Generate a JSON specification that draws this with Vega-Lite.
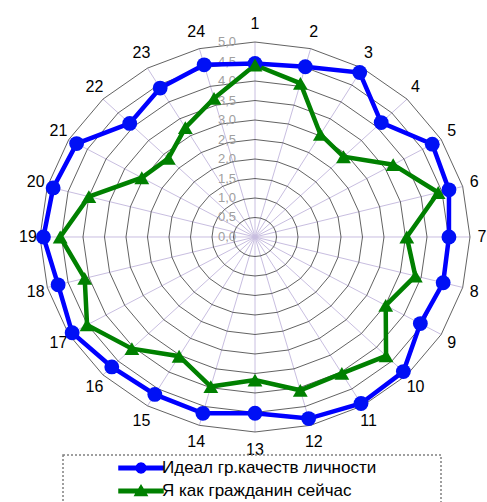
{
  "$schema": "https://vega.github.io/schema/vega-lite/v6.json",
  "width": 487,
  "height": 502,
  "autosize": "none",
  "padding": 0,
  "background": "white",
  "config": {"view": {"stroke": null}, "font": "Liberation Sans"},
  "datasets": {
    "scores": [
      {"k": 1, "series": "Идеал гр.качеств личности", "value": 4.45},
      {"k": 2, "series": "Идеал гр.качеств личности", "value": 4.52},
      {"k": 3, "series": "Идеал гр.качеств личности", "value": 4.87},
      {"k": 4, "series": "Идеал гр.качеств личности", "value": 4.15},
      {"k": 5, "series": "Идеал гр.качеств личности", "value": 4.76},
      {"k": 6, "series": "Идеал гр.качеств личности", "value": 4.67},
      {"k": 7, "series": "Идеал гр.качеств личности", "value": 4.51},
      {"k": 8, "series": "Идеал гр.качеств личности", "value": 4.53},
      {"k": 9, "series": "Идеал гр.качеств личности", "value": 4.44},
      {"k": 10, "series": "Идеал гр.качеств личности", "value": 4.88},
      {"k": 11, "series": "Идеал гр.качеств личности", "value": 4.93},
      {"k": 12, "series": "Идеал гр.качеств личности", "value": 4.82},
      {"k": 13, "series": "Идеал гр.качеств личности", "value": 4.52},
      {"k": 14, "series": "Идеал гр.качеств личности", "value": 4.68},
      {"k": 15, "series": "Идеал гр.качеств личности", "value": 4.66},
      {"k": 16, "series": "Идеал гр.качеств личности", "value": 4.71},
      {"k": 17, "series": "Идеал гр.качеств личности", "value": 4.91},
      {"k": 18, "series": "Идеал гр.качеств личности", "value": 4.74},
      {"k": 19, "series": "Идеал гр.качеств личности", "value": 4.92},
      {"k": 20, "series": "Идеал гр.качеств личности", "value": 4.86},
      {"k": 21, "series": "Идеал гр.качеств личности", "value": 4.79},
      {"k": 22, "series": "Идеал гр.качеств личности", "value": 4.12},
      {"k": 23, "series": "Идеал гр.качеств личности", "value": 4.41},
      {"k": 24, "series": "Идеал гр.качеств личности", "value": 4.57},
      {"k": 1, "series": "Я как гражданин сейчас", "value": 4.41},
      {"k": 2, "series": "Я как гражданин сейчас", "value": 4.08},
      {"k": 3, "series": "Я как гражданин сейчас", "value": 3.04},
      {"k": 4, "series": "Я как гражданин сейчас", "value": 2.91},
      {"k": 5, "series": "Я как гражданин сейчас", "value": 3.71},
      {"k": 6, "series": "Я как гражданин сейчас", "value": 4.41},
      {"k": 7, "series": "Я как гражданин сейчас", "value": 3.53},
      {"k": 8, "series": "Я как гражданин сейчас", "value": 3.86},
      {"k": 9, "series": "Я как гражданин сейчас", "value": 3.51},
      {"k": 10, "series": "Я как гражданин сейчас", "value": 4.31},
      {"k": 11, "series": "Я как гражданин сейчас", "value": 4.04},
      {"k": 12, "series": "Я как гражданин сейчас", "value": 4.07},
      {"k": 13, "series": "Я как гражданин сейчас", "value": 3.67},
      {"k": 14, "series": "Я как гражданин сейчас", "value": 3.97},
      {"k": 15, "series": "Я как гражданин сейчас", "value": 3.53},
      {"k": 16, "series": "Я как гражданин сейчас", "value": 4.05},
      {"k": 17, "series": "Я как гражданин сейчас", "value": 4.51},
      {"k": 18, "series": "Я как гражданин сейчас", "value": 4.10},
      {"k": 19, "series": "Я как гражданин сейчас", "value": 4.53},
      {"k": 20, "series": "Я как гражданин сейчас", "value": 4.00},
      {"k": 21, "series": "Я как гражданин сейчас", "value": 3.04},
      {"k": 22, "series": "Я как гражданин сейчас", "value": 2.85},
      {"k": 23, "series": "Я как гражданин сейчас", "value": 3.24},
      {"k": 24, "series": "Я как гражданин сейчас", "value": 3.68}
    ],
    "rings": [
      {"level": 0.5, "k": [1,2,3,4,5,6,7,8,9,10,11,12,13,14,15,16,17,18,19,20,21,22,23,24]},
      {"level": 1.0, "k": [1,2,3,4,5,6,7,8,9,10,11,12,13,14,15,16,17,18,19,20,21,22,23,24]},
      {"level": 1.5, "k": [1,2,3,4,5,6,7,8,9,10,11,12,13,14,15,16,17,18,19,20,21,22,23,24]},
      {"level": 2.0, "k": [1,2,3,4,5,6,7,8,9,10,11,12,13,14,15,16,17,18,19,20,21,22,23,24]},
      {"level": 2.5, "k": [1,2,3,4,5,6,7,8,9,10,11,12,13,14,15,16,17,18,19,20,21,22,23,24]},
      {"level": 3.0, "k": [1,2,3,4,5,6,7,8,9,10,11,12,13,14,15,16,17,18,19,20,21,22,23,24]},
      {"level": 3.5, "k": [1,2,3,4,5,6,7,8,9,10,11,12,13,14,15,16,17,18,19,20,21,22,23,24]},
      {"level": 4.0, "k": [1,2,3,4,5,6,7,8,9,10,11,12,13,14,15,16,17,18,19,20,21,22,23,24]},
      {"level": 4.5, "k": [1,2,3,4,5,6,7,8,9,10,11,12,13,14,15,16,17,18,19,20,21,22,23,24]},
      {"level": 5.0, "k": [1,2,3,4,5,6,7,8,9,10,11,12,13,14,15,16,17,18,19,20,21,22,23,24]}
    ],
    "ringLabels": [
      {"level": 0, "label": "0,0"}, {"level": 0.5, "label": "0,5"}, {"level": 1, "label": "1,0"},
      {"level": 1.5, "label": "1,5"}, {"level": 2, "label": "2,0"}, {"level": 2.5, "label": "2,5"},
      {"level": 3, "label": "3,0"}, {"level": 3.5, "label": "3,5"}, {"level": 4, "label": "4,0"},
      {"level": 4.5, "label": "4,5"}, {"level": 5, "label": "5,0"}
    ],
    "spokes": [
      {"k": 1}, {"k": 2}, {"k": 3}, {"k": 4}, {"k": 5}, {"k": 6}, {"k": 7}, {"k": 8},
      {"k": 9}, {"k": 10}, {"k": 11}, {"k": 12}, {"k": 13}, {"k": 14}, {"k": 15}, {"k": 16},
      {"k": 17}, {"k": 18}, {"k": 19}, {"k": 20}, {"k": 21}, {"k": 22}, {"k": 23}, {"k": 24}
    ]
  },
  "layer": [
    {
      "data": {"name": "spokes"},
      "transform": [
        {"calculate": "(datum.k - 1) * PI / 12", "as": "a"},
        {"calculate": "5 * sin(datum.a)", "as": "px"},
        {"calculate": "5 * cos(datum.a)", "as": "py"}
      ],
      "mark": {"type": "rule", "color": "#c8bee0", "strokeWidth": 1},
      "encoding": {
        "x": {"field": "px", "type": "quantitative", "scale": {"domain": [-5.93, 5.395], "nice": false, "zero": false}, "axis": null},
        "y": {"field": "py", "type": "quantitative", "scale": {"domain": [-6.795, 6.077], "nice": false, "zero": false}, "axis": null},
        "x2": {"datum": 0},
        "y2": {"datum": 0}
      }
    },
    {
      "data": {"name": "rings"},
      "transform": [
        {"flatten": ["k"]},
        {"calculate": "(datum.k - 1) * PI / 12", "as": "a"},
        {"calculate": "datum.level * sin(datum.a)", "as": "px"},
        {"calculate": "datum.level * cos(datum.a)", "as": "py"}
      ],
      "mark": {"type": "line", "interpolate": "linear-closed", "color": "#3a3a3a", "strokeWidth": 0.8},
      "encoding": {
        "x": {"field": "px", "type": "quantitative"},
        "y": {"field": "py", "type": "quantitative"},
        "detail": {"field": "level", "type": "nominal"},
        "order": {"field": "k", "type": "quantitative"}
      }
    },
    {
      "data": {"name": "ringLabels"},
      "mark": {"type": "text", "fontSize": 13, "color": "#a0a0a0", "align": "center", "baseline": "middle"},
      "encoding": {
        "x": {"datum": -0.65, "type": "quantitative"},
        "y": {"field": "level", "type": "quantitative"},
        "text": {"field": "label", "type": "nominal"}
      }
    },
    {
      "data": {"name": "spokes"},
      "transform": [
        {"calculate": "(datum.k - 1) * PI / 12", "as": "a"},
        {"calculate": "5.28 * sin(datum.a)", "as": "px"},
        {"calculate": "5.45 * cos(datum.a)", "as": "py"}
      ],
      "mark": {"type": "text", "fontSize": 16, "color": "black", "align": "center", "baseline": "middle"},
      "encoding": {
        "x": {"field": "px", "type": "quantitative"},
        "y": {"field": "py", "type": "quantitative"},
        "text": {"field": "k", "type": "nominal"}
      }
    },
    {
      "data": {"name": "scores"},
      "transform": [
        {"calculate": "(datum.k - 1) * PI / 12", "as": "a"},
        {"calculate": "datum.value * sin(datum.a)", "as": "px"},
        {"calculate": "datum.value * cos(datum.a)", "as": "py"}
      ],
      "mark": {"type": "line", "interpolate": "linear-closed", "strokeWidth": 4.5},
      "encoding": {
        "x": {"field": "px", "type": "quantitative"},
        "y": {"field": "py", "type": "quantitative"},
        "order": {"field": "k", "type": "quantitative"},
        "color": {
          "field": "series",
          "type": "nominal",
          "scale": {"domain": ["Идеал гр.качеств личности", "Я как гражданин сейчас"], "range": ["#0000ff", "#008000"]},
          "legend": {
            "title": "ММММM",
            "titleOrient": "right",
            "titleColor": "rgba(0,0,0,0)",
            "titleFontSize": 15,
            "titlePadding": 0,
            "orient": "none",
            "legendX": 63,
            "legendY": 455,
            "direction": "vertical",
            "fillColor": "white",
            "strokeColor": "#808080",
            "padding": 2,
            "symbolSize": 484,
            "clipHeight": 22,
            "rowPadding": 1,
            "symbolOffset": 64,
            "labelOffset": 9,
            "labelFontSize": 17,
            "labelColor": "black",
            "labelFont": "Liberation Sans",
            "labelLimit": 400,
            "encode": {
              "legend": {
                "update": {"strokeDash": {"value": [2, 2]}, "strokeWidth": {"value": 1.5}}
              }
            }
          }
        }
      }
    },
    {
      "data": {"name": "scores"},
      "transform": [
        {"filter": "datum.series === 'Идеал гр.качеств личности'"},
        {"calculate": "(datum.k - 1) * PI / 12", "as": "a"},
        {"calculate": "datum.value * sin(datum.a)", "as": "px"},
        {"calculate": "datum.value * cos(datum.a)", "as": "py"}
      ],
      "mark": {"type": "point", "shape": "circle", "filled": true, "opacity": 1, "size": 220, "strokeWidth": 0, "color": "#0010f5"},
      "encoding": {
        "x": {"field": "px", "type": "quantitative"},
        "y": {"field": "py", "type": "quantitative"}
      }
    },
    {
      "data": {"name": "scores"},
      "transform": [
        {"filter": "datum.series === 'Я как гражданин сейчас'"},
        {"calculate": "(datum.k - 1) * PI / 12", "as": "a"},
        {"calculate": "datum.value * sin(datum.a)", "as": "px"},
        {"calculate": "datum.value * cos(datum.a)", "as": "py"}
      ],
      "mark": {"type": "point", "shape": "triangle-up", "filled": true, "opacity": 1, "size": 220, "strokeWidth": 0, "color": "#008000"},
      "encoding": {
        "x": {"field": "px", "type": "quantitative"},
        "y": {"field": "py", "type": "quantitative"}
      }
    },
    {
      "data": {"name": "scores"},
      "transform": [
        {"filter": "datum.k > 100"}
      ],
      "mark": {"type": "point", "filled": true, "opacity": 1, "size": 220, "strokeWidth": 0},
      "encoding": {
        "x": {"field": "k", "type": "quantitative"},
        "y": {"field": "value", "type": "quantitative"},
        "color": {"field": "series", "type": "nominal"},
        "shape": {
          "field": "series",
          "type": "nominal",
          "scale": {
            "domain": ["Идеал гр.качеств личности", "Я как гражданин сейчас"],
            "range": [
              "M-2,-0.17L2,-0.17L2,0.17L-2,0.17Z M-0.45,0L-0.39,-0.225L-0.225,-0.39L0,-0.45L0.225,-0.39L0.39,-0.225L0.45,0L0.39,0.225L0.225,0.39L0,0.45L-0.225,0.39L-0.39,0.225Z",
              "M-2,-0.17L2,-0.17L2,0.17L-2,0.17Z M-0.55,0.4L0,-0.5L0.55,0.4Z"
            ]
          }
        }
      }
    }
  ]
}
